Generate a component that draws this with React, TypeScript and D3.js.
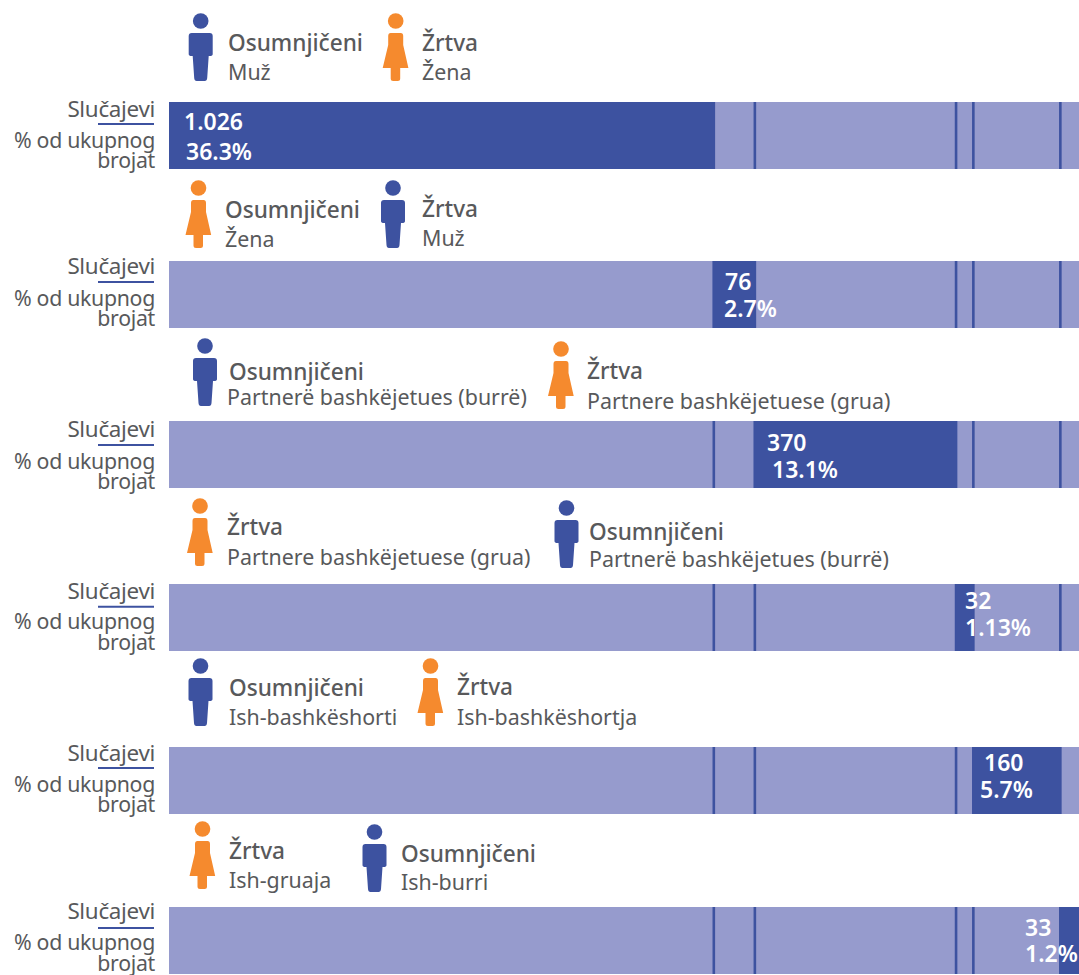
import React from "react"
import * as d3 from "d3"

// chart data
const caseCounts = [1026, 76, 370, 32, 160, 33]
const caseShares = [36.3, 2.7, 13.1, 1.13, 5.7, 1.2]
// segment widths as drawn, % of the bar (they do not follow the counts exactly)
const drawnShares = [59.87, 4.51, 22.11, 1.9, 9.56, 2.05]

const firstRoles = ["Osumnjičeni", "Osumnjičeni", "Osumnjičeni", "Žrtva", "Osumnjičeni", "Žrtva"]
const firstLabels = ["Muž", "Žena", "Partnerë bashkëjetues (burrë)", "Partnere bashkëjetuese (grua)", "Ish-bashkëshorti", "Ish-gruaja"]
const firstSex = ["m", "f", "m", "f", "m", "f"]
const secondRoles = ["Žrtva", "Žrtva", "Žrtva", "Osumnjičeni", "Žrtva", "Osumnjičeni"]
const secondLabels = ["Žena", "Muž", "Partnere bashkëjetuese (grua)", "Partnerë bashkëjetues (burrë)", "Ish-bashkëshortja", "Ish-burri"]
const secondSex = ["f", "m", "f", "m", "f", "m"]

const axisLabels = ["Slučajevi", "% od ukupnog", "brojat"]

// layout
const WIDTH = 1079
const HEIGHT = 975
const BAR_H = 67
const DARK = "#3d52a0"
const LIGHT = "#969bcd"
const ORANGE = "#f58a2e"
const TEXT = "#58595b"
const FONT = "'Noto Sans', sans-serif"

const rowIndex = d3.range(caseCounts.length)
const y = d3.scaleOrdinal<number, number>().domain(rowIndex).range([102, 261, 421, 584, 747, 907])
const x = d3.scaleLinear().domain([0, 100]).range([169, WIDTH])
const cumulative = Array.from(d3.cumsum(drawnShares))
const formatCount = d3.formatLocale({ decimal: ",", thousands: ".", grouping: [3], currency: ["", ""] }).format(",d")

// [head x, head y, role x, role baseline, label x, label baseline]
const firstLayout = [
  [200.7, 21, 228, 51, 228, 80],
  [198.5, 188, 225, 218, 225, 247],
  [205, 346, 229, 380, 227, 405],
  [200, 506, 227, 535, 227, 565],
  [200.5, 666, 229, 696, 229, 725],
  [202.5, 829, 229, 859, 229, 888],
]
const secondLayout = [
  [395.7, 21, 422, 51, 422, 80],
  [393, 188, 422, 217, 422, 246],
  [561, 349, 587, 379, 587, 409],
  [566.5, 508, 589, 540, 589, 567],
  [430.5, 666, 457, 695, 457, 725],
  [374.5, 832, 401, 862, 401, 890],
]
// [count x, count baseline, share x, share baseline], offsets from bar top
const valueLayout = [
  [184, 28, 186, 58],
  [725, 29, 724, 56],
  [767, 30, 772, 57],
  [965, 25, 965, 52],
  [984, 24, 980, 51],
  [1025, 29, 1025, 55],
]
// [Slučajevi, underline, % od ukupnog, brojat] offsets from bar top
const axisLayout = [
  [14.7, 22, 45.7, 66],
  [13.3, 21, 44.7, 65],
  [16.3, 24, 48, 68],
  [15.3, 22.7, 45.3, 66],
  [13.7, 21, 44.7, 65],
  [12, 21, 43, 64],
]

const manPath = "M-9,12 Q-12,12 -12,15 L-12,33 Q-12,35 -9,35 L-8,35 L-6.5,57 Q-6.3,60 -4,60 L4,60 Q6.3,60 6.5,57 L8,35 L9,35 Q12,35 12,33 L12,15 Q12,12 9,12 Z"
const womanPath = "M-5,12 Q-7.5,12 -7.5,15 L-7.5,24 L-13,47 L-5,47 L-5,57.5 Q-5,60 -2.5,60 L2,60 Q4.5,60 4.5,57.5 L4.5,47 L12.7,47 L7.5,24 L7.5,15 Q7.5,12 5,12 Z"

function Person({ hx, hy, sex }: { hx: number; hy: number; sex: string }) {
  const fill = sex === "m" ? DARK : ORANGE
  return (
    <g transform={`translate(${hx},${hy})`} fill={fill}>
      <circle r={7.8} />
      <path d={sex === "m" ? manPath : womanPath} />
    </g>
  )
}

function LegendEntry({ layout, sex, role, label }: { layout: number[]; sex: string; role: string; label: string }) {
  const [hx, hy, rx, ry, lx, ly] = layout
  return (
    <g fill={TEXT}>
      <Person hx={hx} hy={hy} sex={sex} />
      <text x={rx} y={ry} fontSize={22.6} fontWeight={500}>{role}</text>
      <text x={lx} y={ly} fontSize={21.4}>{label}</text>
    </g>
  )
}

export default function App() {
  return (
    <svg
      width={WIDTH}
      height={HEIGHT}
      viewBox={`0 0 ${WIDTH} ${HEIGHT}`}
      style={{ position: "absolute", top: 0, left: 0, display: "block", fontFamily: FONT }}
    >
      <rect width={WIDTH} height={HEIGHT} fill="#fff" />
      {rowIndex.map(i => {
        const top = y(i)
        const x0 = x(i === 0 ? 0 : cumulative[i - 1])
        const x1 = x(cumulative[i])
        const axis = axisLayout[i]
        return (
          <g key={i}>
            <LegendEntry layout={firstLayout[i]} sex={firstSex[i]} role={firstRoles[i]} label={firstLabels[i]} />
            <LegendEntry layout={secondLayout[i]} sex={secondSex[i]} role={secondRoles[i]} label={secondLabels[i]} />

            <g fill={TEXT} fontSize={21.3} textAnchor="end" letterSpacing={-0.3}>
              <text x={155} y={top + axis[0]} fontSize={22.4}>{axisLabels[0]}</text>
              <text x={155} y={top + axis[2]}>{axisLabels[1]}</text>
              <text x={155} y={top + axis[3]}>{axisLabels[2]}</text>
            </g>
            <line x1={98} x2={154} y1={top + axis[1]} y2={top + axis[1]} stroke={DARK} strokeWidth={2} />

            <rect x={x(0)} y={top} width={x(100) - x(0)} height={BAR_H} fill={LIGHT} />
            {cumulative.slice(0, -1).map((c, j) => (
              <line key={j} x1={x(c)} x2={x(c)} y1={top} y2={top + BAR_H} stroke={DARK} strokeWidth={2.6} />
            ))}
            <rect x={x0 - (i ? 1 : 0)} y={top} width={x1 - x0 + (i ? 1 : 0)} height={BAR_H} fill={DARK} />

            <g fill="#fff" fontSize={23} fontWeight={600}>
              <text x={valueLayout[i][0]} y={top + valueLayout[i][1]}>{formatCount(caseCounts[i])}</text>
              <text x={valueLayout[i][2]} y={top + valueLayout[i][3]}>{caseShares[i]}%</text>
            </g>
          </g>
        )
      })}
    </svg>
  )
}
